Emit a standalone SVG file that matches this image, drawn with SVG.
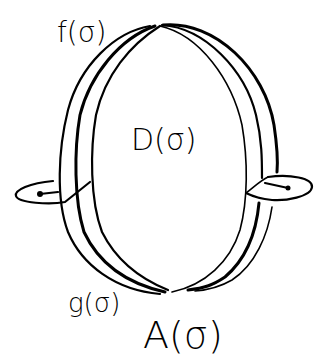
<svg xmlns="http://www.w3.org/2000/svg" width="329" height="361" viewBox="0 0 329 361">
<style>
.s{fill:none;stroke:#000;stroke-linecap:round;stroke-linejoin:round}
.t1{stroke-width:1.6}
.t2{stroke-width:2.2}
.t3{stroke-width:3}
.lbl{font-family:"DejaVu Sans",sans-serif;fill:#000;font-weight:200}
</style>
<rect width="329" height="361" fill="#fff"/>
<g id="surface-left">
<path class="s t2" d="M150,26 C115,32 80,65 68,110 C58,150 56,200 68,232 C82,265 115,290 160,294"/>
<path class="s t3" d="M155,26 C120,38 90,75 80,115 C74,150 74,200 84,232 C98,262 125,283 165,292"/>
<path class="s t2" d="M160,26 C130,45 105,75 96,115 C90,150 90,200 102,232 C115,258 138,278 168,290"/>
</g>
<g id="surface-right">
<path class="s t3" d="M163,25 C215,20 265,70 274,125 C277,145 278,160 277,172"/>
<path class="s t1" d="M272,207 C268,235 255,265 232,280 C220,287 208,290 195,291"/>
<path class="s t2" d="M162,25 C205,28 245,70 256,115 C262,140 262,160 262,178"/>
<path class="s t3" d="M259,203 C256,235 245,260 225,277 C213,285 205,288 188,290"/>
<path class="s t1" d="M160,26 C200,35 232,80 242,125 C248,160 248,200 240,230 C230,262 205,285 172,292"/>
</g>
<g id="loop-left">
<path class="s t2" d="M53,181 C30,183 14,190 16,196 C18,203 50,205 65,202 L90,182"/>
<path class="s t2" d="M40,194 L58,192"/>
<circle cx="40" cy="194" r="3" fill="#000"/>
</g>
<g id="loop-right">
<path class="s t1" d="M246,193 C255,186 260,181 268,177"/>
<path class="s t2" d="M268,177 C290,174 313,178 312,187 C311,197 285,201 272,200 C262,199 252,196 246,193"/>
<path class="s t2" d="M288,188 L265,183"/>
<circle cx="288" cy="188" r="2.5" fill="#000"/>
</g>
<g id="labels">
<text class="lbl" x="57" y="42" font-size="28">f(σ)</text>
<text class="lbl" x="131" y="150" font-size="30">D(σ)</text>
<text class="lbl" x="68" y="312" font-size="26">g(σ)</text>
<text class="lbl" x="143" y="348" font-size="38">A(σ)</text>
</g>
</svg>
